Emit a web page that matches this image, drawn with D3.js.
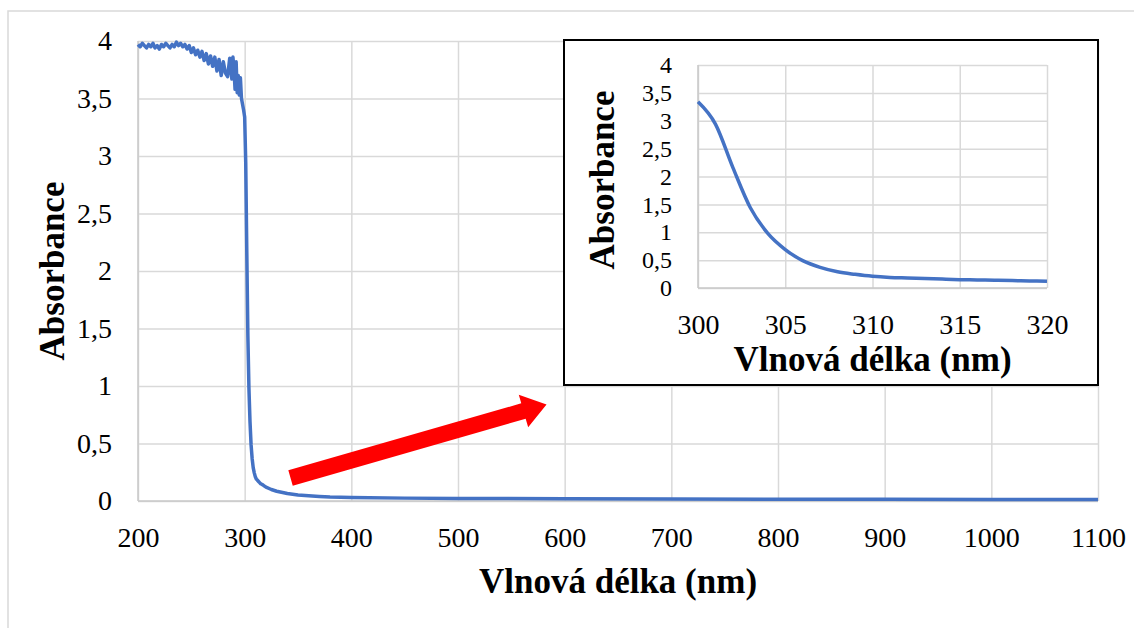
<!DOCTYPE html>
<html>
<head>
<meta charset="utf-8">
<script src="https://cdn.jsdelivr.net/npm/d3@7"></script>
<style>
  body { margin: 0; background: #fff; }
</style>
</head>
<body>
<div id="chart"></div>
<script>
// spectrum, wavelength (nm) / absorbance
var wavelength = [200, 202, 204, 206, 208, 210, 212, 214, 216, 218, 220, 222, 224, 226, 228, 230,
  232, 234, 236, 238, 240, 242, 244, 246, 248, 250, 252, 254, 256, 258, 260, 262, 264, 266, 268,
  270, 272, 274, 276, 278, 280, 282, 284, 286, 288, 289, 290, 291, 292, 293, 294, 295, 296, 297,
  298, 299, 300, 301, 302, 303, 304, 305, 306, 307, 308, 309, 310, 311, 312, 313, 314, 315, 316,
  317, 318, 319, 320, 325, 330, 340, 350, 360, 370, 380, 400, 450, 500, 600, 700, 800, 900, 1000, 1100];
var absorbance = [3.97, 3.95, 3.98, 3.96, 3.94, 3.97, 3.95, 3.98, 3.94, 3.96, 3.93, 3.97, 3.95, 3.98, 3.96, 3.94,
  3.97, 3.95, 3.99, 3.96, 3.98, 3.95, 3.97, 3.93, 3.96, 3.90, 3.94, 3.88, 3.92, 3.86, 3.91, 3.83, 3.89, 3.80, 3.87,
  3.78, 3.86, 3.74, 3.84, 3.70, 3.82, 3.72, 3.69, 3.85, 3.67, 3.86, 3.75, 3.58, 3.82, 3.55, 3.70, 3.53, 3.68, 3.50,
  3.45, 3.40, 3.34, 2.94, 2.16, 1.44, 0.98, 0.69, 0.49, 0.37, 0.29, 0.245, 0.21, 0.19, 0.18, 0.17, 0.16, 0.15, 0.145,
  0.14, 0.133, 0.127, 0.12, 0.10, 0.085, 0.065, 0.052, 0.045, 0.04, 0.035, 0.03, 0.025, 0.022, 0.02, 0.018, 0.016, 0.015, 0.014, 0.012];

var xTicks = [200, 300, 400, 500, 600, 700, 800, 900, 1000, 1100];
var yTicks = [0, 0.5, 1, 1.5, 2, 2.5, 3, 3.5, 4];
var yTickLabels = ["0", "0,5", "1", "1,5", "2", "2,5", "3", "3,5", "4"];
var insetXTicks = [300, 305, 310, 315, 320];

var xTitle = "Vlnová délka (nm)";
var yTitle = "Absorbance";

// arrow from the tail of the spectrum towards the inset (data units)
var arrowFrom = [343, 0.2];
var arrowTo = [583, 0.84];

var serif = "Liberation Serif";

var svgWidth = 1134;
var svgHeight = 628;

var margin = { top: 41, right: 36, bottom: 127, left: 138 };
var width = svgWidth - margin.left - margin.right;
var height = svgHeight - margin.top - margin.bottom;

var spectrum = wavelength.map(function(w, i) { return { w: w, a: absorbance[i] }; });

var svg = d3.select("#chart")
  .append("svg")
  .attr("width", svgWidth)
  .attr("height", svgHeight)
  .style("font-family", serif);

// outer frame
svg.append("rect")
  .attr("x", 8).attr("y", 11)
  .attr("width", svgWidth).attr("height", svgHeight)
  .attr("fill", "none")
  .attr("stroke", "#d9d9d9")
  .attr("stroke-width", 1.5);

var chartGroup = svg.append("g")
  .attr("transform", `translate(${margin.left}, ${margin.top})`);

var xScale = d3.scaleLinear().domain([200, 1100]).range([0, width]);
var yScale = d3.scaleLinear().domain([0, 4]).range([height, 0]);

function styleAxis(size) {
  return function(g) {
    g.attr("font-family", null).attr("font-size", null);
    g.select(".domain").remove();
    g.selectAll(".tick line").attr("stroke", "#d9d9d9").attr("stroke-width", 1.5);
    g.selectAll(".tick text")
      .style("font-family", serif)
      .style("font-size", size + "px")
      .attr("fill", "#000");
  };
}

function addTitle(g, text) {
  return g.append("text")
    .style("font-family", serif)
    .style("font-weight", "bold")
    .style("font-size", "35px")
    .attr("text-anchor", "middle")
    .attr("fill", "#000")
    .text(text);
}

chartGroup.append("g")
  .attr("transform", `translate(0, ${height})`)
  .call(d3.axisBottom(xScale).tickValues(xTicks).tickSize(-height).tickPadding(26)
    .tickFormat(d3.format("d")))
  .call(styleAxis(28));

chartGroup.append("g")
  .call(d3.axisLeft(yScale).tickValues(yTicks).tickSize(-width).tickPadding(26)
    .tickFormat(function(d, i) { return yTickLabels[i]; }))
  .call(styleAxis(28));

// left / bottom edges
chartGroup.append("line")
  .attr("x1", 0).attr("x2", 0).attr("y1", 0).attr("y2", height)
  .attr("stroke", "#c8c8c8").attr("stroke-width", 1.5);
chartGroup.append("line")
  .attr("x1", 0).attr("x2", width).attr("y1", height).attr("y2", height)
  .attr("stroke", "#c8c8c8").attr("stroke-width", 1.5);

var mainLine = d3.line()
  .x(d => xScale(d.w))
  .y(d => yScale(d.a));

chartGroup.append("path")
  .datum(spectrum)
  .attr("d", mainLine)
  .attr("fill", "none")
  .attr("stroke", "#4472c4")
  .attr("stroke-width", 3.5)
  .attr("stroke-linejoin", "round");

addTitle(chartGroup, xTitle)
  .attr("x", width / 2)
  .attr("y", 552);

addTitle(chartGroup, yTitle)
  .attr("transform", `translate(${64 - margin.left}, ${height / 2}) rotate(-90)`);

// red arrow
var ax0 = xScale(arrowFrom[0]), ay0 = yScale(arrowFrom[1]);
var ax1 = xScale(arrowTo[0]), ay1 = yScale(arrowTo[1]);
var len = Math.hypot(ax1 - ax0, ay1 - ay0);
var ang = Math.atan2(ay1 - ay0, ax1 - ax0) * 180 / Math.PI;
var shaft = 8, headLen = 24, headHalf = 17;
chartGroup.append("path")
  .attr("transform", `translate(${ax0}, ${ay0}) rotate(${ang})`)
  .attr("d", `M0,${-shaft}L${len - headLen},${-shaft}L${len - headLen},${-headHalf}L${len},0` +
    `L${len - headLen},${headHalf}L${len - headLen},${shaft}L0,${shaft}Z`)
  .attr("fill", "#ff0000");

// inset
var box = { x: 564, y: 40, w: 534, h: 345 };
svg.append("rect")
  .attr("x", box.x).attr("y", box.y)
  .attr("width", box.w).attr("height", box.h)
  .attr("fill", "#fff")
  .attr("stroke", "#000")
  .attr("stroke-width", 2);

var inset = { left: 698, top: 65, width: 349, height: 223 };
var insetGroup = svg.append("g")
  .attr("transform", `translate(${inset.left}, ${inset.top})`);

var ixScale = d3.scaleLinear().domain([300, 320]).range([0, inset.width]);
var iyScale = d3.scaleLinear().domain([0, 4]).range([inset.height, 0]);

insetGroup.append("g")
  .attr("transform", `translate(0, ${inset.height})`)
  .call(d3.axisBottom(ixScale).tickValues(insetXTicks).tickSize(-inset.height).tickPadding(26))
  .call(styleAxis(28));

insetGroup.append("g")
  .call(d3.axisLeft(iyScale).tickValues(yTicks).tickSize(-inset.width).tickPadding(26)
    .tickFormat(function(d, i) { return yTickLabels[i]; }))
  .call(styleAxis(24));

insetGroup.append("line")
  .attr("x1", 0).attr("x2", 0).attr("y1", 0).attr("y2", inset.height)
  .attr("stroke", "#c8c8c8").attr("stroke-width", 1.5);
insetGroup.append("line")
  .attr("x1", 0).attr("x2", inset.width).attr("y1", inset.height).attr("y2", inset.height)
  .attr("stroke", "#c8c8c8").attr("stroke-width", 1.5);

var insetData = spectrum.filter(d => d.w >= 300 && d.w <= 320);
insetGroup.append("path")
  .datum(insetData)
  .attr("d", d3.line().curve(d3.curveMonotoneX).x(d => ixScale(d.w)).y(d => iyScale(d.a)))
  .attr("fill", "none")
  .attr("stroke", "#4472c4")
  .attr("stroke-width", 3.5);

addTitle(insetGroup, xTitle)
  .attr("x", inset.width / 2)
  .attr("y", 371 - inset.top);

addTitle(insetGroup, yTitle)
  .attr("transform", `translate(${614 - inset.left}, ${180 - inset.top}) rotate(-90)`);
</script>
</body>
</html>
